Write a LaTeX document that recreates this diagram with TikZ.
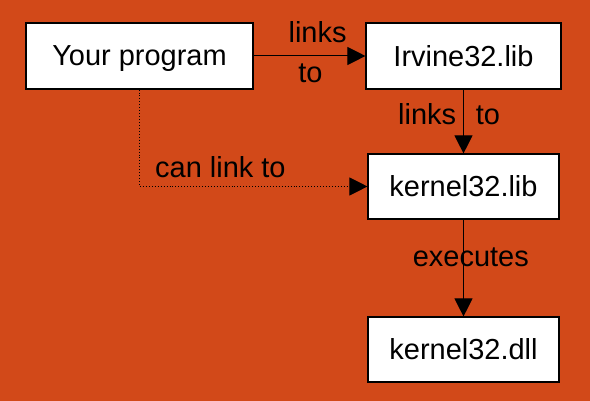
\documentclass[tikz,border=0pt]{standalone}
\usepackage{fontspec}
\setmainfont{Liberation Sans}
\usetikzlibrary{arrows.meta, positioning}
\definecolor{bgorange}{RGB}{210, 73, 25}
\tikzset{
  libbox/.style={rectangle, draw=black, fill=white, line width=0.8pt,
    minimum width=4.775cm, minimum height=1.625cm, inner sep=0pt, text depth=0pt},
  arr/.style={-{Triangle[length=0.45cm,width=0.45cm]}, line width=0.7pt, color=black},
  lbl/.style={anchor=base, inner sep=0pt},
}

\begin{document}
\begin{tikzpicture}[x=1cm,y=1cm,font=\fontsize{20.6}{24}\selectfont]
% background (sets the page size)
\fill[bgorange] (0,0) rectangle (14.75,10.025);
% boxes
\node[libbox, minimum width=5.675cm, minimum height=1.65cm] (prog) at (3.4875,8.625) {Your program};
\node[libbox, minimum width=4.875cm, minimum height=1.65cm] (irvine) at (11.5875,8.625) {Irvine32.lib};
\node[libbox] (klib) at (11.5875,5.3625) {kernel32.lib};
\node[libbox] (kdll) at (11.5875,1.2875) {kernel32.dll};
% connectors
\draw[arr] (prog) -- (irvine);
\draw[arr] (irvine) -- (klib);
\draw[arr] (klib) -- (kdll);
\draw[arr, dash pattern=on 0.7pt off 1.4pt] (prog.south) |- (klib.west);
% labels
\node[lbl] (l1) at (7.94,8.95) {links};
\node[lbl] (l2) at (7.76,7.95) {to};
\node[lbl] (l3) at (10.68,6.9) {links};
\node[lbl] (l4) at (12.2,6.9) {to};
\node[lbl] (l5) at (5.51,5.58) {can link to};
\node[lbl] (l6) at (11.77,3.36) {executes};
\end{tikzpicture}
\end{document}
